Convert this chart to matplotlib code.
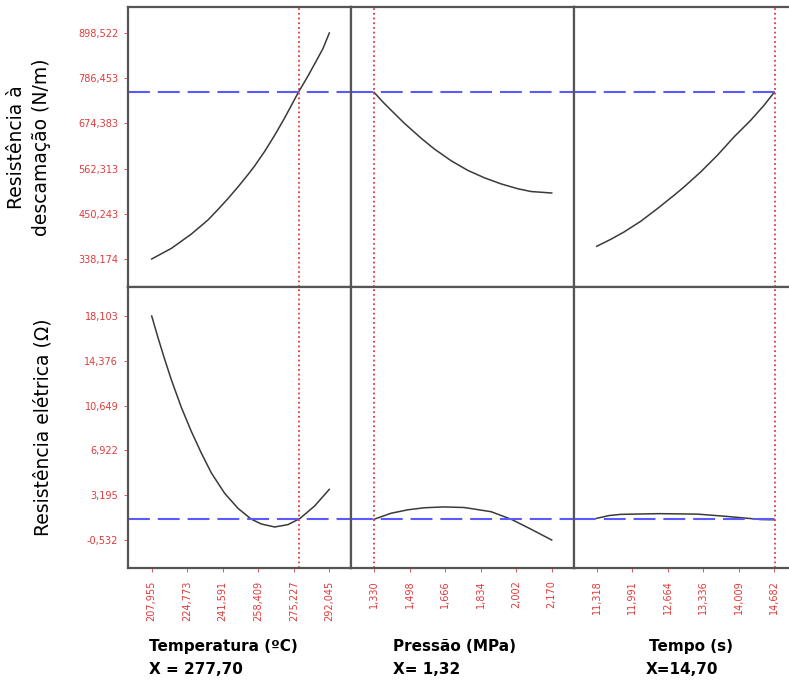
import numpy as np
import matplotlib
matplotlib.use("Agg")
import matplotlib.pyplot as plt

# fatores e respostas
fatores = ["Temperatura (ºC)", "Pressão (MPa)", "Tempo (s)"]
rotulos_x = ["X = 277,70", "X= 1,32", "X=14,70"]
x_otimo = [277.70, 1.330, 14.70]
respostas = ["Resistência à\ndescamação (N/m)", "Resistência elétrica (Ω)"]
y_otimo = [751.7, 1.19]

# ticks
ticks_x_temp = [207.955, 224.773, 241.591, 258.409, 275.227, 292.045]
ticks_x_pres = [1.330, 1.498, 1.666, 1.834, 2.002, 2.170]
ticks_x_tempo = [11.318, 11.991, 12.664, 13.336, 14.009, 14.682]
ticks_y_desc = [338.174, 450.243, 562.313, 674.383, 786.453, 898.522]
ticks_y_elet = [-0.532, 3.195, 6.922, 10.649, 14.376, 18.103]

# curvas: resistência à descamação
temp_desc = [207.955, 217.25, 226.72, 234.61, 239.35, 244.08, 248.82, 253.55, 256.71,
             261.44, 266.18, 270.91, 277.23, 281.96, 285.11, 289.06, 292.045]
desc_temp = [338.174, 364.5, 400.0, 435.0, 461.0, 488.0, 517.0, 547.5, 569.0,
             605.0, 645.0, 688.0, 749.8, 792.0, 822.0, 860.0, 898.522]
pres_desc = [1.330, 1.371, 1.410, 1.473, 1.552, 1.615, 1.694, 1.773, 1.852,
             1.930, 2.009, 2.072, 2.170]
desc_pres = [751.7, 728.0, 707.5, 675.0, 638.0, 611.0, 582.0, 558.0, 539.5,
             524.5, 512.5, 505.5, 501.8]
tempo_desc = [11.318, 11.583, 11.835, 12.151, 12.466, 12.782, 12.971, 13.287,
              13.603, 13.918, 14.234, 14.487, 14.682]
desc_tempo = [369.6, 386.9, 405.1, 431.6, 462.9, 496.0, 516.7, 553.9,
              595.2, 640.7, 682.0, 719.2, 751.7]

# curvas: resistência elétrica
temp_elet = [207.955, 210.94, 214.10, 217.25, 221.98, 226.72, 231.45, 236.19, 242.50,
             248.82, 255.13, 259.86, 266.18, 272.49, 278.01, 285.12, 292.045]
elet_temp = [18.103, 16.30, 14.50, 12.80, 10.50, 8.50, 6.70, 5.05, 3.35,
             2.10, 1.20, 0.80, 0.55, 0.75, 1.24, 2.30, 3.68]
pres_elet = [1.330, 1.410, 1.490, 1.568, 1.660, 1.757, 1.884, 1.979, 2.073, 2.170]
elet_pres = [1.19, 1.69, 1.98, 2.15, 2.22, 2.17, 1.82, 1.19, 0.36, -0.532]
tempo_elet = [11.318, 11.55, 11.77, 12.50, 13.23, 13.73, 14.11, 14.43, 14.682]
elet_tempo = [1.27, 1.50, 1.60, 1.66, 1.62, 1.45, 1.30, 1.17, 1.15]

curvas = [[(temp_desc, desc_temp), (pres_desc, desc_pres), (tempo_desc, desc_tempo)],
          [(temp_elet, elet_temp), (pres_elet, elet_pres), (tempo_elet, elet_tempo)]]
ticks_x = [ticks_x_temp, ticks_x_pres, ticks_x_tempo]
ticks_y = [ticks_y_desc, ticks_y_elet]

W, H = 789, 682
fig = plt.figure(figsize=(W / 100, H / 100), dpi=100)

col_px = [(128, 351), (351, 574), (574, 789)]
row_px = [(7, 287), (287, 568)]
vermelho = "#e03a3a"
azul = "#5a5aff"
cor_borda = "#555555"


def limites(ticks, px_esq, px_dir, px_t0, px_t1):
    # converte a posição em pixels das bordas em limites de dados
    por_px = (ticks[-1] - ticks[0]) / (px_t1 - px_t0)
    return ticks[0] - (px_t0 - px_esq) * por_px, ticks[-1] + (px_dir - px_t1) * por_px


xlims = [limites(ticks_x_temp, 128, 351, 151.7, 329.3),
         limites(ticks_x_pres, 351, 574, 374.0, 551.7),
         limites(ticks_x_tempo, 574, 789, 596.7, 774.3)]
ylims = [limites(ticks_y_desc, 287, 7, 259, 33),
         limites(ticks_y_elet, 568, 287, 540, 316)]

def fmt(v):
    return ("%.3f" % v).replace(".", ",")

# posição dos textos de baixo (fração do eixo)
pos_fator = [0.094, 0.188, 0.349]
pos_rotulo = [0.094, 0.188, 0.335]

for i in range(2):
    for j in range(3):
        x0, x1 = col_px[j]
        y0, y1 = row_px[i]
        ax = fig.add_axes([x0 / W, 1 - y1 / H, (x1 - x0) / W, (y1 - y0) / H])
        xs, ys = curvas[i][j]
        ax.plot(xs, ys, color="#3a3a3a", lw=1.1)
        fim = 0.967 if j == 2 else 1.0
        ax.axhline(y_otimo[i], xmin=0, xmax=fim, color=azul, lw=1.5,
                   linestyle=(0, (10.5, 3.8)))
        ax.axvline(x_otimo[j], color=vermelho, lw=1.3, linestyle=(0, (1.0, 1.6)))
        ax.set_xlim(xlims[j])
        ax.set_ylim(ylims[i])
        for s in ax.spines.values():
            s.set_color(cor_borda)
            s.set_linewidth(1.6)
        if j == 2:
            ax.spines["right"].set_visible(False)
        ax.tick_params(colors=vermelho, length=3, width=0.6, labelsize=7, pad=4)
        ax.tick_params(axis="x", pad=6)
        if j == 0:
            ax.set_yticks(ticks_y[i])
            ax.set_yticklabels([fmt(v) for v in ticks_y[i]], color=vermelho)
        else:
            ax.set_yticks([])
        if i == 1:
            ax.set_xticks(ticks_x[j])
            ax.set_xticklabels([fmt(v) for v in ticks_x[j]], rotation=90, color=vermelho)
            ax.text(pos_fator[j], -0.28, fatores[j], transform=ax.transAxes,
                    fontsize=11, fontweight="bold", ha="left", va="center")
            ax.text(pos_rotulo[j], -0.36, rotulos_x[j], transform=ax.transAxes,
                    fontsize=11, fontweight="bold", ha="left", va="center")
        else:
            ax.set_xticks([])

# rótulos das respostas
fig.text(29 / W, 1 - 147 / H, respostas[0], rotation=90, ha="center", va="center",
         fontsize=13.5, linespacing=1.45, multialignment="center")
fig.text(43 / W, 1 - 427 / H, respostas[1], rotation=90, ha="center", va="center",
         fontsize=13.5)

fig.savefig("out.png", dpi=100)
